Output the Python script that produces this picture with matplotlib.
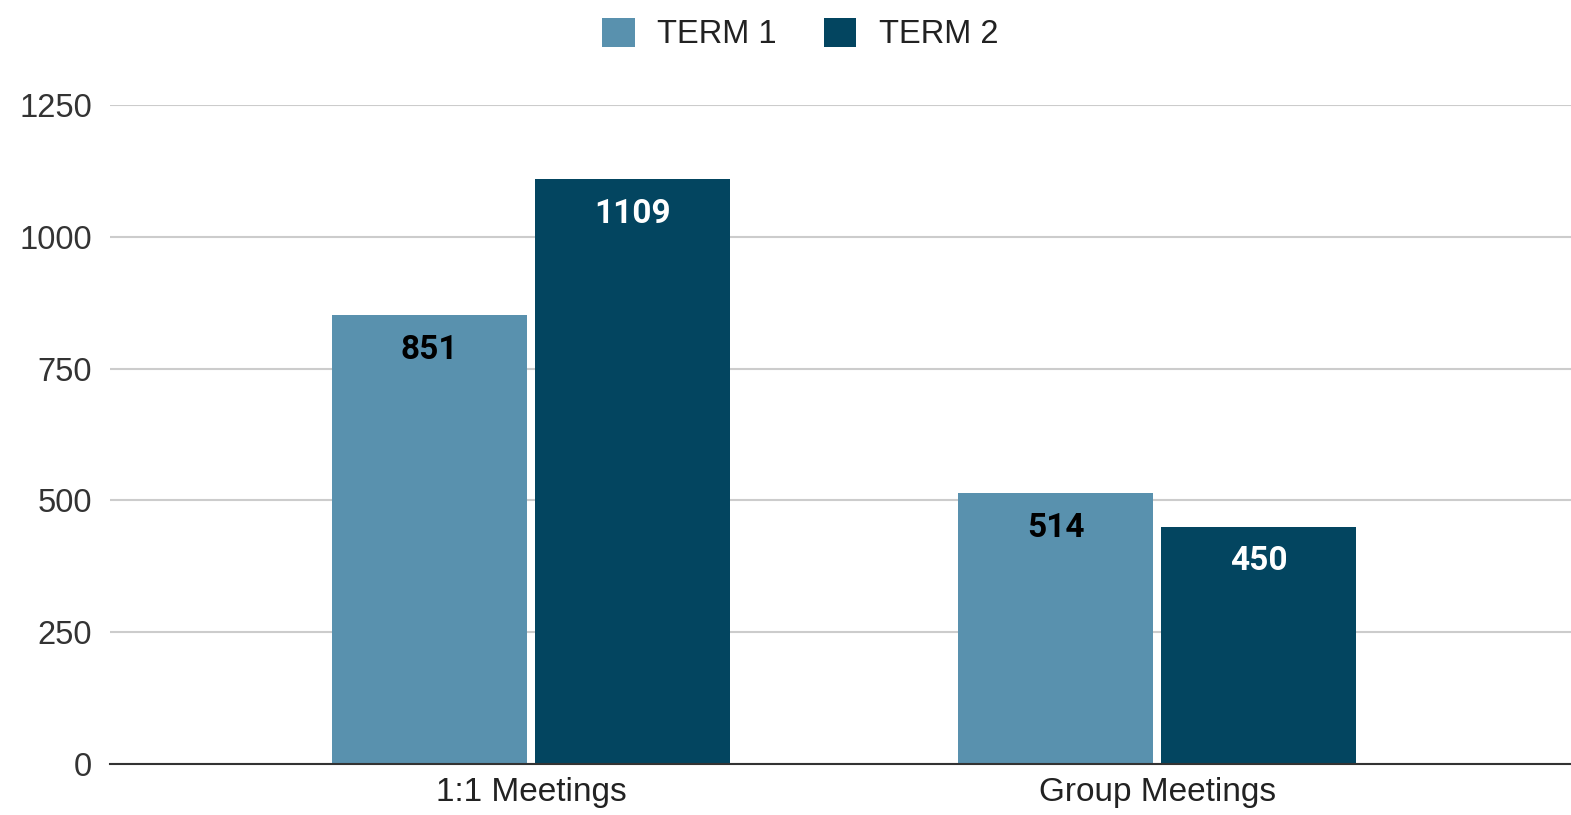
import matplotlib.pyplot as plt
import numpy as np

# Datos
categorias = ['1:1 Meetings', 'Group Meetings']
term1 = [851, 514]
term2 = [1109, 450]
series = ['TERM 1', 'TERM 2']
yticks = [0, 250, 500, 750, 1000, 1250]

color1 = '#5991ae'
color2 = '#034560'

plt.rcParams['font.family'] = ['Liberation Sans', 'DejaVu Sans']

fig = plt.figure(figsize=(15.71, 8.15), dpi=100)
ax = fig.add_axes([110 / 1571, 1 - 764 / 815, 1 - 110 / 1571, (764 - 105) / 815])

x = np.arange(len(categorias))
w = 0.312
b1 = ax.bar(x - 0.162, term1, w, color=color1, label=series[0], zorder=3)
b2 = ax.bar(x + 0.162, term2, w, color=color2, label=series[1], zorder=3)

# Etiquetas dentro de las barras
for bars, col in [(b1, 'black'), (b2, 'white')]:
    for r in bars:
        ax.annotate(f"{int(r.get_height())}", (r.get_x() + r.get_width() / 2, r.get_height()),
                    xytext=(0, -25), textcoords='offset points', ha='center', va='center',
                    fontsize=24, fontweight='bold', color=col, family='Roboto', zorder=4)

ax.set_xlim(-0.6725, 1.661)
ax.set_ylim(0, 1250)
ax.set_yticks(yticks)
ax.set_xticks(x)
ax.set_xticklabels(categorias)
ax.tick_params(axis='y', length=0, pad=13, labelsize=23.5, labelcolor='#333333')
ax.tick_params(axis='x', length=0, pad=9, labelsize=24, labelcolor='#222222')
ax.grid(axis='y', color='#cccccc', linewidth=1.5, zorder=0)
for s in ['top', 'right', 'left']:
    ax.spines[s].set_visible(False)
ax.spines['bottom'].set_color('#333333')
ax.spines['bottom'].set_linewidth(1.5)
ax.spines['bottom'].set_zorder(5)

fig.legend(loc='center', bbox_to_anchor=(800 / 1571, 1 - 34 / 815), ncol=2, frameon=False,
           fontsize=23.5, handlelength=1.0, handleheight=1.0, handletextpad=0.68,
           columnspacing=1.45, labelcolor='#222222')

fig.savefig('out.png', dpi=100)
